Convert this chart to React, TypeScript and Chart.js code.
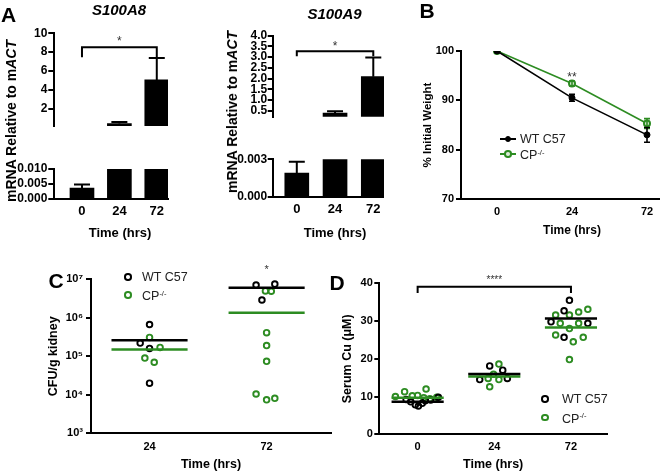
import React, { useEffect, useRef } from 'react';
import { Chart, registerables } from 'chart.js';
Chart.register(...registerables);

const FONT = "'Liberation Sans', Arial, Helvetica, sans-serif";
const GREEN = '#2d8c22';
const BLACK = '#000000';
const W = 660;
const H = 475;

// ---------------- data ----------------
const timeLabels = ['0', '24', '72'];
const s100a8Mean = [0.0036, 0.41, 5.05];
const s100a8Sem = [0.0012, 0.16, 2.32];
const s100a9Mean = [0.0019, 0.39, 2.09];
const s100a9Sem = [0.0009, 0.09, 0.89];
const s100a8UpperTicks = [2, 4, 6, 8, 10];
const s100a8LowerTicks = [0, 0.005, 0.01];
const s100a9UpperTicks = [0.5, 1, 1.5, 2, 2.5, 3, 3.5, 4];
const s100a9LowerTicks = [0, 0.003];

const weightWT = [100, 90.5, 83.0];
const weightWTSem = [0, 0.7, 1.5];
const weightCP = [100, 93.4, 85.3];
const weightCPSem = [0, 0.5, 1.0];
const weightTicks = [70, 80, 90, 100];

const cfuTimes = ['24', '72'];
const cfuWT = [[6.7e5, 2.2e5, 1.6e5, 2.0e4], [7.1e6, 7.5e6, 2.9e6]];
const cfuWTJitter = [[0, -0.08, 0, 0], [-0.09, 0.07, -0.04]];
const cfuCP = [[3.1e5, 1.7e5, 9.0e4, 7.0e4], [5.0e6, 4.9e6, 4.1e5, 1.9e5, 7.4e4, 1.05e4, 7.4e3, 8.1e3]];
const cfuCPJitter = [[0, 0.09, -0.04, 0.04], [-0.01, 0.04, 0, 0, 0, -0.09, 0, 0.07]];
const cfuWTMean = [2.6e5, 6.0e6];
const cfuCPMean = [1.5e5, 1.35e6];
const cfuTicks = [1e3, 1e4, 1e5, 1e6, 1e7];

const cuTimes = ['0', '24', '72'];
const cuWT = [
  [9.2, 8.6, 7.8, 7.5, 8.2, 8.9, 9.1, 9.8],
  [18.1, 17.0, 14.5, 14.8],
  [35.5, 32.7, 29.8, 29.4, 25.7],
];
const cuWTJitter = [
  [-0.15, -0.09, -0.03, 0.01, 0.06, 0.1, 0.17, 0.27],
  [-0.06, 0.11, -0.19, 0.17],
  [-0.02, -0.09, -0.26, 0.22, -0.09],
];
const cuCP = [
  [10.0, 11.3, 10.3, 12.0, 9.4, 9.8, 10.2, 9.7],
  [18.6, 15.9, 14.8, 14.5, 12.6],
  [32.4, 33.1, 31.6, 31.6, 29.4, 29.4, 28.0, 26.3, 24.5, 25.7, 19.8],
];
const cuCPJitter = [
  [-0.29, -0.17, 0.0, 0.11, 0.16, 0.25, -0.07, 0.08],
  [0.06, -0.01, -0.08, 0.06, -0.06],
  [0.1, 0.22, -0.2, -0.02, -0.14, 0.1, -0.02, -0.2, 0.03, 0.16, -0.02],
];
const cuWTMean = [8.6, 16.0, 30.7];
const cuCPMean = [9.7, 15.3, 28.3];
const cuTicks = [0, 10, 20, 30, 40];

// ---------------- helpers ----------------
type Area = { l: number; t: number; r: number; b: number };

function padFor(a: Area, yW: number, xH: number, cw = W, ch = H) {
  return { left: a.l - yW, top: a.t, right: cw - a.r, bottom: ch - a.b - xH };
}

function boldFont(size: number) {
  return { family: FONT, size, weight: 'bold' as const, lineHeight: 1.2 };
}

function yAxis(o: {
  type?: string; min: number; max: number; ticks: number[]; fmt: (v: number) => string;
  width: number; size: number; tickLen: number; pad: number; title?: string; titleSize?: number;
}) {
  return {
    type: o.type ?? 'linear',
    position: 'left',
    min: o.min,
    max: o.max,
    afterBuildTicks: (s: any) => { s.ticks = o.ticks.map((v) => ({ value: v })); },
    afterFit: (s: any) => { s.width = o.width; },
    ticks: { autoSkip: false, padding: o.pad, color: BLACK, font: boldFont(o.size), callback: (v: any) => o.fmt(Number(v)) },
    grid: { display: true, drawOnChartArea: false, drawTicks: true, tickLength: o.tickLen, color: BLACK, lineWidth: 2 },
    border: { display: true, color: BLACK, width: 2 },
    title: o.title
      ? { display: true, text: o.title, color: BLACK, padding: 0, font: boldFont(o.titleSize ?? 12) }
      : { display: false },
  };
}

function xAxis(o: {
  min: number; max: number; labels: string[]; height: number; size: number; pad: number;
  display?: boolean; title?: string; titleSize?: number;
}) {
  return {
    type: 'linear',
    position: 'bottom',
    display: o.display ?? true,
    min: o.min,
    max: o.max,
    offset: false,
    afterBuildTicks: (s: any) => { s.ticks = o.labels.map((_, i) => ({ value: i })); },
    afterFit: (s: any) => { s.height = o.height; },
    ticks: {
      autoSkip: false, maxRotation: 0, minRotation: 0, padding: o.pad, color: BLACK, font: boldFont(o.size),
      callback: (v: any) => o.labels[Math.round(Number(v))] ?? '',
    },
    grid: { display: false, drawTicks: false, drawOnChartArea: false, offset: false },
    border: { display: true, color: BLACK, width: 2 },
    title: o.title
      ? { display: true, text: o.title, color: BLACK, padding: 0, font: boldFont(o.titleSize ?? 12) }
      : { display: false },
  };
}

function baseOptions(padding: any, scales: any) {
  return {
    responsive: false,
    maintainAspectRatio: false,
    animation: false,
    devicePixelRatio: 1,
    events: [],
    layout: { padding },
    plugins: { legend: { display: false }, tooltip: { enabled: false }, title: { display: false } },
    scales,
  };
}

type ErrSpec = { ds: number; sem: number[]; both: boolean; cap: number; width: number; color: string };
type Bracket = { x0: number; x1: number; y: number; drop: number; text: string; gap: number; size: number };
type Note = { x: number; y: number; text: string; size: number };

function drawStars(ctx: CanvasRenderingContext2D, x: number, cy: number, text: string, size: number) {
  ctx.save();
  ctx.font = `${size}px ${FONT}`;
  ctx.fillStyle = '#333';
  ctx.textAlign = 'center';
  ctx.textBaseline = 'alphabetic';
  ctx.fillText(text, x, cy + 0.58 * size);
  ctx.restore();
}

function annotate(errors: ErrSpec[], brackets: Bracket[], notes: Note[]) {
  return {
    id: 'annotate',
    afterDatasetsDraw(chart: any) {
      const { ctx, chartArea: a, scales } = chart;
      const xs = scales.x;
      const ys = scales.y;
      ctx.save();
      ctx.beginPath();
      ctx.rect(a.left, a.top, a.right - a.left, a.bottom - a.top);
      ctx.clip();
      for (const e of errors) {
        const meta = chart.getDatasetMeta(e.ds);
        const data = chart.data.datasets[e.ds].data;
        meta.data.forEach((el: any, j: number) => {
          const v = data[j].y;
          const s = e.sem[j];
          if (!s) return;
          const x = el.x;
          const yTop = ys.getPixelForValue(v + s);
          const yBot = ys.getPixelForValue(e.both ? v - s : v);
          ctx.strokeStyle = e.color;
          ctx.lineWidth = e.width;
          ctx.beginPath();
          ctx.moveTo(x, yTop);
          ctx.lineTo(x, yBot);
          ctx.moveTo(x - e.cap / 2, yTop);
          ctx.lineTo(x + e.cap / 2, yTop);
          if (e.both) {
            ctx.moveTo(x - e.cap / 2, yBot);
            ctx.lineTo(x + e.cap / 2, yBot);
          }
          ctx.stroke();
        });
      }
      ctx.restore();
      for (const b of brackets) {
        const x0 = xs.getPixelForValue(b.x0);
        const x1 = xs.getPixelForValue(b.x1);
        const y = ys.getPixelForValue(b.y);
        ctx.save();
        ctx.strokeStyle = BLACK;
        ctx.lineWidth = 2;
        ctx.beginPath();
        ctx.moveTo(x0, y + b.drop);
        ctx.lineTo(x0, y);
        ctx.lineTo(x1, y);
        ctx.lineTo(x1, y + b.drop);
        ctx.stroke();
        ctx.restore();
        drawStars(ctx, (x0 + x1) / 2, y - b.gap, b.text, b.size);
      }
      for (const n of notes) drawStars(ctx, xs.getPixelForValue(n.x), ys.getPixelForValue(n.y), n.text, n.size);
    },
  };
}

// ---------------- panel A ----------------
function barPanel(o: {
  mean: number[]; sem: number[]; area: Area; yMin: number; yMax: number; ticks: number[];
  fmt: (v: number) => string; xMin: number; xMax: number; showX: boolean; bracket?: Bracket;
  tickLen: number; pad: number;
}) {
  const yW = o.area.l - 2;
  return {
    type: 'bar',
    data: {
      datasets: [{
        data: o.mean.map((v, i) => ({ x: i, y: v })),
        backgroundColor: BLACK,
        borderWidth: 0,
        barThickness: 24,
        clip: 0,
      }],
    },
    options: baseOptions(padFor(o.area, yW, o.showX ? 30 : 0), {
      x: xAxis({ min: o.xMin, max: o.xMax, labels: timeLabels, height: 30, size: 13, pad: 5, display: o.showX }),
      y: yAxis({ min: o.yMin, max: o.yMax, ticks: o.ticks, fmt: o.fmt, width: yW, size: 12, tickLen: o.tickLen, pad: o.pad }),
    }),
    plugins: [annotate([{ ds: 0, sem: o.sem, both: false, cap: 16, width: 2, color: BLACK }], o.bracket ? [o.bracket] : [], [])],
  };
}

const makeA8Upper = () => barPanel({
  mean: s100a8Mean, sem: s100a8Sem, area: { l: 54.3, t: 33.3, r: 168, b: 156 }, yMin: 0.15, yMax: 10,
  ticks: s100a8UpperTicks, fmt: (v) => String(v), xMin: -0.74, xMax: 2.3, showX: false, tickLen: 6, pad: 1,
  bracket: { x0: 0, x1: 2, y: 8.52, drop: 10, text: '*', gap: 8.7, size: 12 },
});
const makeA8Lower = () => barPanel({
  mean: s100a8Mean, sem: s100a8Sem, area: { l: 54.3, t: 169, r: 168, b: 199 }, yMin: 0, yMax: 0.01,
  ticks: s100a8LowerTicks, fmt: (v) => v.toFixed(3), xMin: -0.74, xMax: 2.3, showX: true, tickLen: 6, pad: 1,
});
const makeA9Upper = () => barPanel({
  mean: s100a9Mean, sem: s100a9Sem, area: { l: 272.7, t: 35.7, r: 384, b: 146.7 }, yMin: 0.22, yMax: 4,
  ticks: s100a9UpperTicks, fmt: (v) => v.toFixed(1), xMin: -0.63, xMax: 2.28, showX: false, tickLen: 5, pad: 0.5,
  bracket: { x0: 0, x1: 2, y: 3.28, drop: 5, text: '*', gap: 8.4, size: 12 },
});
const makeA9Lower = () => barPanel({
  mean: s100a9Mean, sem: s100a9Sem, area: { l: 272.7, t: 159.3, r: 384, b: 196.7 }, yMin: 0, yMax: 0.003,
  ticks: s100a9LowerTicks, fmt: (v) => v.toFixed(3), xMin: -0.63, xMax: 2.28, showX: true, tickLen: 5, pad: 0.5,
});

// ---------------- panel B ----------------
const B_W = 700;
const makeB = () => {
  const area = { l: 461, t: 51, r: 683, b: 199 };
  return {
    type: 'scatter',
    data: {
      datasets: [
        {
          data: weightWT.map((v, i) => ({ x: i, y: v })),
          showLine: true, borderColor: BLACK, borderWidth: 1.6,
          pointRadius: 3, pointBackgroundColor: BLACK, pointBorderColor: BLACK, pointBorderWidth: 1,
        },
        {
          data: weightCP.map((v, i) => ({ x: i, y: v })),
          showLine: true, borderColor: GREEN, borderWidth: 1.6,
          pointRadius: 3, pointBackgroundColor: '#dcebd8', pointBorderColor: GREEN, pointBorderWidth: 2,
        },
      ],
    },
    options: baseOptions(padFor(area, 40.4, 39.2, B_W, H), {
      x: xAxis({ min: -0.48, max: 2.48, labels: timeLabels, height: 39.2, size: 11, pad: 6.5, title: 'Time (hrs)', titleSize: 12 }),
      y: yAxis({ min: 70, max: 100, ticks: weightTicks, fmt: (v) => String(v), width: 40.4, size: 11, tickLen: 5, pad: 2, title: '% Initial Weight', titleSize: 11.5 }),
    }),
    plugins: [annotate(
      [
        { ds: 1, sem: weightCPSem, both: true, cap: 6, width: 1.6, color: GREEN },
        { ds: 0, sem: weightWTSem, both: true, cap: 6, width: 1.6, color: BLACK },
      ],
      [],
      [{ x: 1, y: 95.3, text: '**', size: 12 }],
    )],
  };
};

// ---------------- scatter panels C, D ----------------
function groupPoints(groups: number[][], jitter: number[][]) {
  return groups.flatMap((vals, gi) => vals.map((v, k) => ({ x: gi + jitter[gi][k], y: v })));
}
function meanLines(means: number[], color: string, hw: number, order: number) {
  return means.map((m, gi) => ({
    type: 'line',
    data: [{ x: gi - hw, y: m }, { x: gi + hw, y: m }],
    borderColor: color, borderWidth: 2.5, pointRadius: 0, showLine: true, order,
  }));
}
function pointSet(groups: number[][], jitter: number[][], color: string, order: number) {
  return {
    data: groupPoints(groups, jitter),
    showLine: false, pointRadius: 2.8, pointBorderWidth: 1.9,
    pointBackgroundColor: 'rgba(255,255,255,0)', pointBorderColor: color, order,
  };
}

const SUP: Record<string, string> = { '3': '³', '4': '⁴', '5': '⁵', '6': '⁶', '7': '⁷' };

const makeC = () => {
  const area = { l: 91, t: 279.3, r: 331, b: 433.3 };
  return {
    type: 'scatter',
    data: {
      datasets: [
        ...meanLines(cfuWTMean, BLACK, 0.325, 0),
        ...meanLines(cfuCPMean, GREEN, 0.325, 1),
        pointSet(cfuWT, cfuWTJitter, BLACK, 2),
        pointSet(cfuCP, cfuCPJitter, GREEN, 3),
      ],
    },
    options: baseOptions(padFor(area, 44.5, 39.2), {
      x: xAxis({ min: -0.5, max: 1.55, labels: cfuTimes, height: 39.2, size: 11, pad: 7.5, title: 'Time (hrs)', titleSize: 12.5 }),
      y: yAxis({
        type: 'logarithmic', min: 1e3, max: 1e7, ticks: cfuTicks,
        fmt: (v) => '10' + SUP[String(Math.round(Math.log10(v)))], width: 44.5, size: 11, tickLen: 5, pad: 3,
        title: 'CFU/g kidney', titleSize: 12.5,
      }),
    }),
    plugins: [annotate([], [], [{ x: 1, y: 2.1e7, text: '*', size: 11 }])],
  };
};

const makeD = () => {
  const area = { l: 379.3, t: 283.3, r: 607, b: 434.3 };
  return {
    type: 'scatter',
    data: {
      datasets: [
        ...meanLines(cuWTMean, BLACK, 0.34, 0),
        ...meanLines(cuCPMean, GREEN, 0.34, 1),
        pointSet(cuWT, cuWTJitter, BLACK, 2),
        pointSet(cuCP, cuCPJitter, GREEN, 3),
      ],
    },
    options: baseOptions(padFor(area, 38.8, 38.2), {
      x: xAxis({ min: -0.5, max: 2.47, labels: cuTimes, height: 38.2, size: 11, pad: 5.8, title: 'Time (hrs)', titleSize: 12.5 }),
      y: yAxis({
        min: 0, max: 40, ticks: cuTicks, fmt: (v) => String(v), width: 38.8, size: 11, tickLen: 5, pad: 1.5,
        title: 'Serum Cu (\u03bcM)', titleSize: 12.5,
      }),
    }),
    plugins: [annotate([], [{ x0: 0, x1: 2, y: 39.1, drop: 6.3, text: '****', gap: 9, size: 10 }], [])],
  };
};

// ---------------- components ----------------
function ChartCanvas({ make, w = W, h = H }: { make: () => any; w?: number; h?: number }) {
  const ref = useRef<HTMLCanvasElement>(null);
  useEffect(() => {
    const chart = new Chart(ref.current as HTMLCanvasElement, make());
    return () => chart.destroy();
  }, []);
  return (
    <canvas
      ref={ref}
      width={w}
      height={h}
      style={{ position: 'absolute', left: 0, top: 0, width: w, height: h }}
    />
  );
}

function Txt(props: {
  x: number; y: number; size: number; bold?: boolean; italic?: boolean; rotate?: boolean;
  left?: boolean; color?: string; children: React.ReactNode;
}) {
  const { x, y, size, bold, italic, rotate, left, color, children } = props;
  return (
    <div
      style={{
        position: 'absolute', left: x, top: y, whiteSpace: 'nowrap', fontFamily: FONT, fontSize: size,
        fontWeight: bold ? 700 : 400, fontStyle: italic ? 'italic' : 'normal', lineHeight: 1,
        color: color ?? BLACK,
        transform: left ? 'translate(0,-50%)' : `translate(-50%,-50%)${rotate ? ' rotate(-90deg)' : ''}`,
      }}
    >
      {children}
    </div>
  );
}

function Circle({ x, y, color, fill = 'transparent', d = 7.5, bw = 2 }: { x: number; y: number; color: string; fill?: string; d?: number; bw?: number }) {
  return (
    <div
      style={{
        position: 'absolute', left: x - d / 2, top: y - d / 2, width: d, height: d, boxSizing: 'border-box',
        border: `${bw}px solid ${color}`, borderRadius: '50%', background: fill,
      }}
    />
  );
}

function Bar({ x0, x1, y, color, w = 2 }: { x0: number; x1: number; y: number; color: string; w?: number }) {
  return <div style={{ position: 'absolute', left: x0, top: y - w / 2, width: x1 - x0, height: w, background: color }} />;
}

const cpText = (
  <>CP<span style={{ fontSize: '0.6em', position: 'relative', top: '-0.6em' }}>-/-</span></>
);

export default function App() {
  return (
    <div style={{ position: 'absolute', left: 0, top: 0, width: W, height: H, overflow: 'hidden', background: '#fff' }}>
      <ChartCanvas make={makeA8Upper} />
      <ChartCanvas make={makeA8Lower} />
      <ChartCanvas make={makeA9Upper} />
      <ChartCanvas make={makeA9Lower} />
      <ChartCanvas make={makeB} w={B_W} />
      <ChartCanvas make={makeC} />
      <ChartCanvas make={makeD} />

      {/* panel letters */}
      <Txt x={8.5} y={14} size={21} bold>A</Txt>
      <Txt x={427} y={9.5} size={21} bold>B</Txt>
      <Txt x={56} y={280} size={21} bold>C</Txt>
      <Txt x={337} y={281.5} size={21} bold>D</Txt>

      {/* panel A texts */}
      <Txt x={119} y={8.5} size={15} bold italic>S100A8</Txt>
      <Txt x={334.5} y={13.3} size={15} bold italic>S100A9</Txt>
      <Txt x={11} y={121} size={14} bold rotate>mRNA Relative to m<i>ACT</i></Txt>
      <Txt x={232} y={112} size={14} bold rotate>mRNA Relative to m<i>ACT</i></Txt>
      <Txt x={120} y={232} size={13} bold>Time (hrs)</Txt>
      <Txt x={335} y={232} size={13} bold>Time (hrs)</Txt>

      {/* legend B */}
      <Bar x0={500} x1={516} y={139} color={BLACK} />
      <Circle x={508} y={139} color={BLACK} fill={BLACK} d={6} bw={1} />
      <Txt x={520} y={139} size={12.5} left color="#222">WT C57</Txt>
      <Bar x0={500} x1={516} y={154} color={GREEN} />
      <Circle x={508} y={154} color={GREEN} fill="#dcebd8" d={7.5} bw={2} />
      <Txt x={520} y={155} size={12.5} left color="#222">{cpText}</Txt>

      {/* legend C */}
      <Circle x={128} y={277} color={BLACK} />
      <Txt x={142} y={277} size={12.5} left color="#222">WT C57</Txt>
      <Circle x={128} y={295} color={GREEN} />
      <Txt x={142} y={296} size={12.5} left color="#222">{cpText}</Txt>

      {/* legend D */}
      <Circle x={545} y={399} color={BLACK} />
      <Txt x={562} y={399} size={12.5} left color="#222">WT C57</Txt>
      <Circle x={545} y={417.5} color={GREEN} />
      <Txt x={562} y={418.5} size={12.5} left color="#222">{cpText}</Txt>
    </div>
  );
}
